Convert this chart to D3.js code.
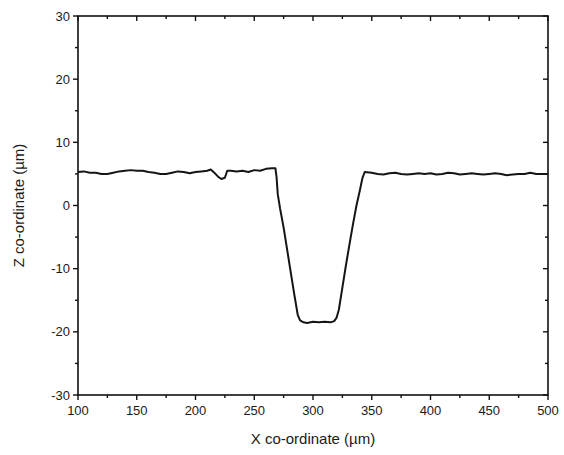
<!DOCTYPE html>
<html>
<head>
<meta charset="utf-8">
<script src="https://cdn.jsdelivr.net/npm/d3@7"></script>
<style>
  body { margin: 0; background: #fff; }
  svg text { font-family: "Liberation Sans", Arial, sans-serif; fill: #1a1a1a; }
</style>
</head>
<body>
<div id="chart"></div>
<script>
// ----- profile data -----
const xVals = [100, 105, 110, 115, 120, 125, 130, 135, 140, 145, 150, 155, 160, 165, 170, 175,
    180, 185, 190, 195, 200, 205, 210, 213, 216, 219, 222, 225, 227, 230, 235, 240, 245, 250,
    255, 260, 265, 268, 269, 270, 272, 275, 278, 281, 284, 287, 289, 292, 295, 300, 305, 310,
    315, 318, 320, 322, 325, 328, 331, 334, 337, 340, 342, 344, 350, 355, 360, 365, 370, 375,
    380, 385, 390, 395, 400, 405, 410, 415, 420, 425, 430, 435, 440, 445, 450, 455, 460, 465,
    470, 475, 480, 485, 490, 495, 500];
const zVals = [5.3, 5.4, 5.2, 5.2, 5.0, 5.0, 5.2, 5.4, 5.5, 5.6, 5.5, 5.5, 5.3, 5.2, 5.0, 5.0,
    5.2, 5.4, 5.3, 5.1, 5.3, 5.4, 5.5, 5.7, 5.2, 4.6, 4.2, 4.4, 5.5, 5.5, 5.4, 5.5, 5.3, 5.6,
    5.5, 5.8, 5.9, 5.9, 4.5, 1.8, -0.5, -3.5, -7, -10.5, -14, -17.3, -18.2, -18.5, -18.6, -18.4, -18.5, -18.4,
    -18.5, -18.3, -17.8, -16.5, -13, -9.5, -6.2, -3, 0, 2.5, 4.3, 5.3, 5.2, 5.0, 4.9, 5.1, 5.2, 5.0,
    4.9, 5.0, 5.1, 5.0, 5.1, 4.9, 5.0, 5.2, 5.1, 4.9, 5.0, 5.1, 5.0, 4.9, 5.0, 5.1, 5.0, 4.8,
    4.9, 5.0, 5.0, 5.2, 5.0, 5.0, 5.0];

const xTicks = [100, 150, 200, 250, 300, 350, 400, 450, 500];
const yTicks = [-30, -20, -10, 0, 10, 20, 30];

const width = 564, height = 455;
const margin = { left: 78, right: 16, top: 16, bottom: 60 };

const svg = d3.select('#chart').append('svg')
    .attr('width', width)
    .attr('height', height);

const x = d3.scaleLinear().domain([100, 500]).range([margin.left, width - margin.right]);
const y = d3.scaleLinear().domain([-30, 30]).range([height - margin.bottom, margin.top]);

const xMinor = d3.range(125, 500, 50);
const yMinor = d3.range(-25, 30, 10);

// frame
svg.append('rect')
    .attr('x', x(100)).attr('y', y(30))
    .attr('width', x(500) - x(100)).attr('height', y(-30) - y(30))
    .attr('fill', 'none').attr('stroke', '#111').attr('stroke-width', 1.6);

const tickG = svg.append('g').attr('stroke', '#111').attr('stroke-width', 1.4);

// bottom ticks (outward) and top ticks (inward)
xTicks.forEach(t => {
    tickG.append('line').attr('x1', x(t)).attr('x2', x(t)).attr('y1', y(-30)).attr('y2', y(-30) + 5);
    tickG.append('line').attr('x1', x(t)).attr('x2', x(t)).attr('y1', y(30)).attr('y2', y(30) + 5);
});
xMinor.forEach(t => {
    tickG.append('line').attr('x1', x(t)).attr('x2', x(t)).attr('y1', y(-30)).attr('y2', y(-30) + 3);
    tickG.append('line').attr('x1', x(t)).attr('x2', x(t)).attr('y1', y(30)).attr('y2', y(30) + 3);
});
// left ticks (outward) and right ticks (inward)
yTicks.forEach(t => {
    tickG.append('line').attr('y1', y(t)).attr('y2', y(t)).attr('x1', x(100)).attr('x2', x(100) - 5);
    tickG.append('line').attr('y1', y(t)).attr('y2', y(t)).attr('x1', x(500)).attr('x2', x(500) - 5);
});
yMinor.forEach(t => {
    tickG.append('line').attr('y1', y(t)).attr('y2', y(t)).attr('x1', x(100)).attr('x2', x(100) - 3);
    tickG.append('line').attr('y1', y(t)).attr('y2', y(t)).attr('x1', x(500)).attr('x2', x(500) - 3);
});

// tick labels
svg.selectAll('.xlab')
    .data(xTicks)
    .enter().append('text')
    .attr('class', 'xlab')
    .attr('x', d => x(d))
    .attr('y', y(-30) + 20)
    .attr('text-anchor', 'middle')
    .attr('font-size', 13)
    .text(d => d);

svg.selectAll('.ylab')
    .data(yTicks)
    .enter().append('text')
    .attr('class', 'ylab')
    .attr('x', x(100) - 8)
    .attr('y', d => y(d) + 4.5)
    .attr('text-anchor', 'end')
    .attr('font-size', 13)
    .text(d => d);

// axis titles
svg.append('text')
    .attr('x', (x(100) + x(500)) / 2)
    .attr('y', 444)
    .attr('text-anchor', 'middle')
    .attr('font-size', 15)
    .text('X co-ordinate (\u00b5m)');

svg.append('text')
    .attr('transform', `translate(24, ${(y(30) + y(-30)) / 2}) rotate(-90)`)
    .attr('text-anchor', 'middle')
    .attr('font-size', 15)
    .text('Z co-ordinate (\u00b5m)');

// profile line
const pts = xVals.map((d, i) => [d, zVals[i]]);
const line = d3.line()
    .x(d => x(d[0]))
    .y(d => y(d[1]));

svg.append('path')
    .datum(pts)
    .attr('d', line)
    .attr('fill', 'none')
    .attr('stroke', '#151515')
    .attr('stroke-width', 2)
    .attr('stroke-linejoin', 'round');
</script>
</body>
</html>
